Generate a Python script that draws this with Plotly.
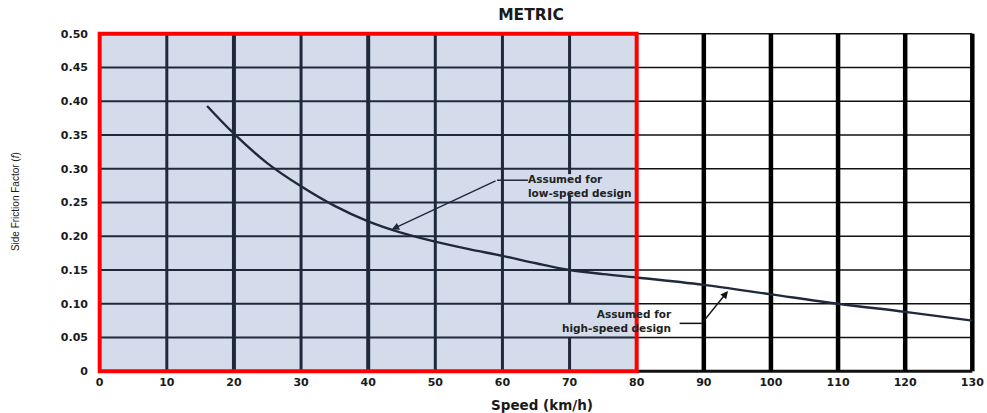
import plotly.graph_objects as go

# ---- data ----
speed = [16, 20, 25, 30, 35, 40, 45, 50, 55, 60, 65, 70, 75, 80, 90, 100, 110, 120, 130]
friction = [0.393, 0.352, 0.308, 0.274, 0.245, 0.222, 0.205, 0.192, 0.181, 0.171, 0.160, 0.150, 0.144, 0.139, 0.128, 0.114, 0.100, 0.088, 0.075]

x_ticks = [0, 10, 20, 30, 40, 50, 60, 70, 80, 90, 100, 110, 120, 130]
y_ticks = [0, 0.05, 0.10, 0.15, 0.20, 0.25, 0.30, 0.35, 0.40, 0.45, 0.50]
y_tick_labels = ["0", "0.05", "0.10", "0.15", "0.20", "0.25", "0.30", "0.35", "0.40", "0.45", "0.50"]

low_speed_limit = 80
x_max = 130
y_max = 0.50

# annotation anchors (data coords)
low_text = (63.5, 0.274)
low_kink_end = (63.8, 0.283)
low_kink = (59.2, 0.283)
low_tip = (43.5, 0.210)

high_text = (85.6, 0.074)
high_kink_start = (86.4, 0.071)
high_kink = (89.7, 0.071)
high_tip = (93.6, 0.119)

BLUE = "#d4dcec"
NAVY = "#1e2a3c"
RED = "#ff0000"
TXT = "#1a1a1a"

fig = go.Figure()

shapes = []
shapes.append(dict(type="rect", xref="x", yref="y", x0=0, x1=low_speed_limit, y0=0, y1=y_max,
                   fillcolor=BLUE, line=dict(width=0), layer="below"))
for yv in y_ticks:
    shapes.append(dict(type="line", xref="x", yref="y", x0=0, x1=low_speed_limit, y0=yv, y1=yv,
                       line=dict(color=NAVY, width=2), layer="below"))
    shapes.append(dict(type="line", xref="x", yref="y", x0=low_speed_limit, x1=x_max, y0=yv, y1=yv,
                       line=dict(color="#111111", width=3 if yv == 0 else 1.5), layer="below"))
for xv in x_ticks:
    if xv in (0, low_speed_limit):
        continue
    if xv < low_speed_limit:
        w = 4 if xv in (20, 40) else 3
        col = NAVY
    else:
        w = 4.5
        col = "#000000"
    if xv == 70:
        segs = [(0, 0.05), (0.10, 0.262), (0.292, y_max)]
    else:
        segs = [(0, y_max)]
    for a, b in segs:
        shapes.append(dict(type="line", xref="x", yref="y", x0=xv, x1=xv, y0=a, y1=b,
                           line=dict(color=col, width=w), layer="below"))
shapes.append(dict(type="rect", xref="x", yref="y", x0=0, x1=low_speed_limit, y0=0, y1=y_max,
                   fillcolor="rgba(0,0,0,0)", line=dict(color=RED, width=4), layer="above"))
shapes.append(dict(type="line", xref="x", yref="y", x0=low_kink[0], x1=low_kink_end[0],
                   y0=low_kink[1], y1=low_kink_end[1], line=dict(color=NAVY, width=1.5)))
shapes.append(dict(type="line", xref="x", yref="y", x0=high_kink_start[0], x1=high_kink[0],
                   y0=high_kink_start[1], y1=high_kink[1], line=dict(color="#111111", width=1.5)))

fig.add_trace(go.Scatter(x=speed, y=friction, mode="lines", line=dict(color=NAVY, width=2.4, shape="spline"),
                         hoverinfo="skip", showlegend=False))

ann_font = dict(family="DejaVu Sans", size=10.5, color="#222222", weight="bold")
annotations = [
    dict(x=low_text[0], y=low_text[1], xref="x", yref="y", text="Assumed for<br>low-speed design",
         showarrow=False, xanchor="left", yanchor="middle", align="left", font=ann_font),
    dict(x=low_tip[0], y=low_tip[1], ax=low_kink[0], ay=low_kink[1], axref="x", ayref="y",
         xref="x", yref="y", text="", showarrow=True, arrowhead=2, arrowsize=1, arrowwidth=1.5, arrowcolor=NAVY),
    dict(x=high_text[0], y=high_text[1], xref="x", yref="y", text="Assumed for<br>high-speed design",
         showarrow=False, xanchor="right", yanchor="middle", align="right", font=ann_font),
    dict(x=high_tip[0], y=high_tip[1], ax=high_kink[0], ay=high_kink[1], axref="x", ayref="y",
         xref="x", yref="y", text="", showarrow=True, arrowhead=2, arrowsize=1, arrowwidth=1.5, arrowcolor="#111111"),
    # axis titles
    dict(x=-0.0934, y=0.504, xref="paper", yref="paper", text="Side Friction Factor (<i>f</i>)",
         textangle=-90, showarrow=False, xanchor="center", yanchor="middle",
         font=dict(family="Liberation Sans", size=10, color=TXT)),
    dict(x=0.507, y=-0.0904, xref="paper", yref="paper", text="Speed (km/h)",
         showarrow=False, xanchor="center", yanchor="middle",
         font=dict(family="DejaVu Sans", size=13.5, color=TXT, weight="bold")),
]

tick_font = dict(family="DejaVu Sans", size=11, color=TXT, weight="bold")

fig.update_layout(
    width=987, height=413,
    margin=dict(l=97, r=12, t=31, b=39),
    paper_bgcolor="white", plot_bgcolor="white",
    shapes=shapes, annotations=annotations,
    title=dict(text="METRIC", x=0.538, xanchor="center", y=0.964, yanchor="middle",
               font=dict(family="DejaVu Sans", size=15.5, color=TXT, weight="bold")),
    xaxis=dict(range=[-0.4, x_max + 0.4], tickvals=x_ticks, showgrid=False, zeroline=False, showline=False,
               ticks="", tickfont=tick_font, automargin=False),
    yaxis=dict(range=[-0.004, y_max + 0.004], tickvals=y_ticks, ticktext=y_tick_labels, showgrid=False,
               zeroline=False, showline=False, ticks="", ticklabelstandoff=8,
               tickfont=tick_font, automargin=False),
)

fig.write_html("out.html", config={"displayModeBar": False},
               post_script="document.body.style.margin='0px';document.body.style.overflow='hidden';")
